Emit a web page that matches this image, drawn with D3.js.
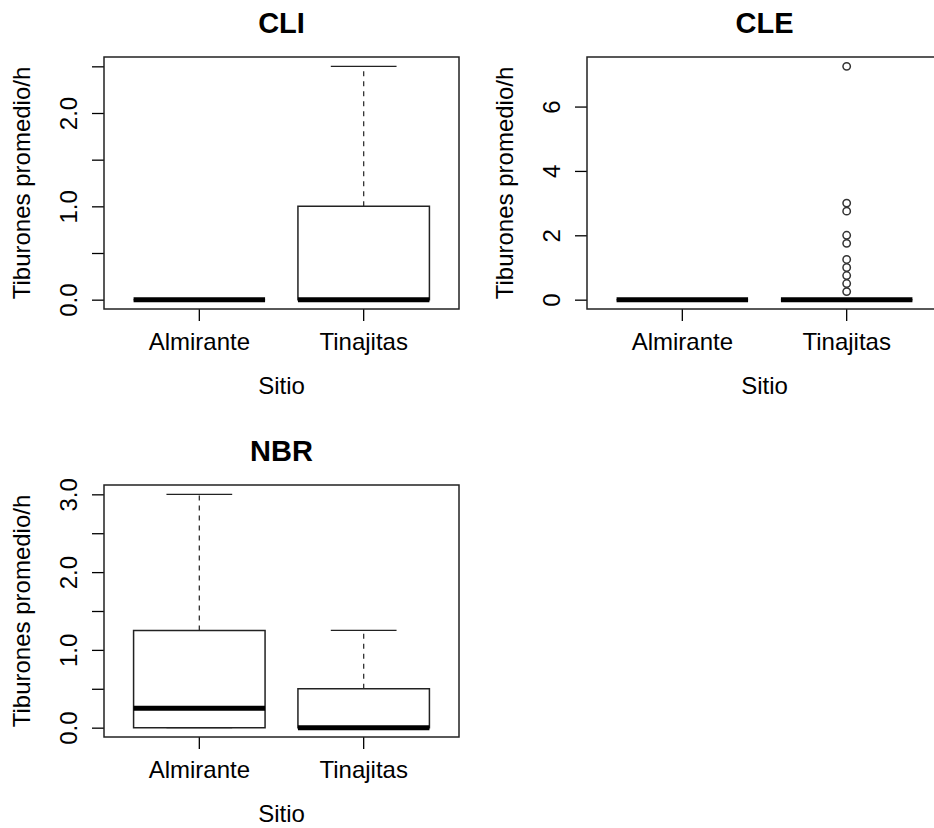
<!DOCTYPE html>
<html>
<head>
<meta charset="utf-8">
<script src="https://cdn.jsdelivr.net/npm/d3@7"></script>
<style>
    body { margin: 0; background: white; }
    svg text { font-family: "Liberation Sans", Arial, sans-serif; fill: black; }
</style>
</head>
<body>
<div id="chart"></div>
<script>
// groups on the x axis
const categories = ['Almirante', 'Tinajitas'];

// box stats per group: [lower whisker, q1, median, q3, upper whisker]
const cliStats = [[0, 0, 0, 0, 0], [0, 0, 0, 1.0, 2.5]];
const cleStats = [[0, 0, 0, 0, 0], [0, 0, 0, 0, 0]];
const nbrStats = [[0, 0, 0.25, 1.25, 3.0], [0, 0, 0, 0.5, 1.25]];

// outliers per group
const cliOutliers = [[], []];
const cleOutliers = [[], [7.25, 3.0, 2.75, 2.0, 1.75, 1.25, 1.0, 0.75, 0.5, 0.25]];
const nbrOutliers = [[], []];

// y ticks and their labels (R drops labels that would overlap)
const cliTicks = [0, 0.5, 1.0, 1.5, 2.0, 2.5];
const cliTickLabels = ['0.0', '', '1.0', '', '2.0', ''];
const cleTicks = [0, 2, 4, 6];
const cleTickLabels = ['0', '2', '4', '6'];
const nbrTicks = [0, 0.5, 1.0, 1.5, 2.0, 2.5, 3.0];
const nbrTickLabels = ['0.0', '', '1.0', '', '2.0', '', '3.0'];

const titles = ['CLI', 'CLE', 'NBR'];
const xLabel = 'Sitio';
const yLabel = 'Tiburones promedio/h';

const svg = d3.select('#chart')
    .append('svg')
    .attr('width', 934)
    .attr('height', 828);

function boxPanel(title, stats, outliers, ticks, tickLabels, ox, oy) {
    const left = 104, right = 459, top = 57, bottom = 309;

    const g = svg.append('g')
        .attr('transform', `translate(${ox}, ${oy})`);

    // R pads the data range by 4% on each side
    const allValues = stats.flat().concat(outliers.flat());
    const [lo, hi] = d3.extent(allValues);
    const pad = (hi - lo) * 0.04;
    const y = d3.scaleLinear()
        .domain([lo - pad, hi + pad])
        .range([bottom, top]);

    const x = d3.scaleBand()
        .domain(categories)
        .range([left, right])
        .paddingInner(0.2)
        .paddingOuter(0.18);

    // title
    g.append('text')
        .attr('x', (left + right) / 2)
        .attr('y', 33)
        .attr('text-anchor', 'middle')
        .style('font-size', '29px')
        .style('font-weight', 'bold')
        .text(title);

    // y axis
    const yAxis = g.append('g')
        .attr('transform', `translate(${left}, 0)`)
        .call(d3.axisLeft(y).tickValues(ticks).tickSize(12).tickSizeOuter(0)
            .tickFormat((d, i) => tickLabels[i]));
    yAxis.select('.domain').remove();
    yAxis.selectAll('line').attr('stroke', 'black').attr('stroke-width', 1.3);
    yAxis.selectAll('text')
        .attr('x', null)
        .attr('dy', null)
        .attr('text-anchor', 'middle')
        .attr('transform', 'translate(-27, 0) rotate(-90)')
        .style('font-size', '24px')
        .style('font-family', '"Liberation Sans", Arial, sans-serif');

    // x axis
    const xAxis = g.append('g')
        .attr('transform', `translate(0, ${bottom})`)
        .call(d3.axisBottom(x).tickSize(12).tickSizeOuter(0));
    xAxis.select('.domain').remove();
    xAxis.selectAll('line').attr('stroke', 'black').attr('stroke-width', 1.3);
    xAxis.selectAll('text')
        .attr('y', 41)
        .attr('dy', null)
        .style('font-size', '24px')
        .style('font-family', '"Liberation Sans", Arial, sans-serif');

    // axis titles
    g.append('text')
        .attr('x', (left + right) / 2)
        .attr('y', 394)
        .attr('text-anchor', 'middle')
        .style('font-size', '24px')
        .text(xLabel);
    g.append('text')
        .attr('transform', `translate(30, ${(top + bottom) / 2}) rotate(-90)`)
        .attr('text-anchor', 'middle')
        .style('font-size', '24px')
        .text(yLabel);

    const boxes = g.selectAll('.box')
        .data(stats)
        .enter()
        .append('g');

    // dashed whiskers
    boxes.append('line')
        .attr('x1', (d, i) => x(categories[i]) + x.bandwidth() / 2)
        .attr('x2', (d, i) => x(categories[i]) + x.bandwidth() / 2)
        .attr('y1', d => y(d[3]))
        .attr('y2', d => y(d[4]))
        .attr('stroke', '#333')
        .attr('stroke-width', 1.3)
        .attr('stroke-dasharray', '5,5');
    boxes.append('line')
        .attr('x1', (d, i) => x(categories[i]) + x.bandwidth() / 2)
        .attr('x2', (d, i) => x(categories[i]) + x.bandwidth() / 2)
        .attr('y1', d => y(d[1]))
        .attr('y2', d => y(d[0]))
        .attr('stroke', '#333')
        .attr('stroke-width', 1.3)
        .attr('stroke-dasharray', '5,5');

    // whisker caps, half the box width
    [0, 4].forEach(function(k) {
        boxes.append('line')
            .attr('x1', (d, i) => x(categories[i]) + x.bandwidth() / 4)
            .attr('x2', (d, i) => x(categories[i]) + x.bandwidth() * 3 / 4)
            .attr('y1', d => y(d[k]))
            .attr('y2', d => y(d[k]))
            .attr('stroke', '#222')
            .attr('stroke-width', 1.3);
    });

    // box
    boxes.append('path')
        .attr('d', function(d, i) {
            const x0 = x(categories[i]), x1 = x0 + x.bandwidth();
            return `M${x0},${y(d[1])}H${x1}V${y(d[3])}H${x0}Z`;
        })
        .attr('fill', 'white')
        .attr('stroke', '#222')
        .attr('stroke-width', 1.5);

    // median
    boxes.append('line')
        .attr('x1', (d, i) => x(categories[i]))
        .attr('x2', (d, i) => x(categories[i]) + x.bandwidth())
        .attr('y1', d => y(d[2]))
        .attr('y2', d => y(d[2]))
        .attr('stroke', 'black')
        .attr('stroke-width', 5);

    // outliers
    outliers.forEach(function(pts, i) {
        g.selectAll('.out' + i)
            .data(pts)
            .enter()
            .append('circle')
            .attr('cx', x(categories[i]) + x.bandwidth() / 2)
            .attr('cy', d => y(d))
            .attr('r', 3.7)
            .attr('fill', 'none')
            .attr('stroke', '#333')
            .attr('stroke-width', 1.5);
    });

    // plot frame
    g.append('rect')
        .attr('x', left)
        .attr('y', top)
        .attr('width', right - left)
        .attr('height', bottom - top)
        .attr('fill', 'none')
        .attr('stroke', '#222')
        .attr('stroke-width', 1.5);
}

function main() {
    boxPanel(titles[0], cliStats, cliOutliers, cliTicks, cliTickLabels, 0, 0);
    boxPanel(titles[1], cleStats, cleOutliers, cleTicks, cleTickLabels, 483, 0);
    boxPanel(titles[2], nbrStats, nbrOutliers, nbrTicks, nbrTickLabels, 0, 428);
}

main();
</script>
</body>
</html>
